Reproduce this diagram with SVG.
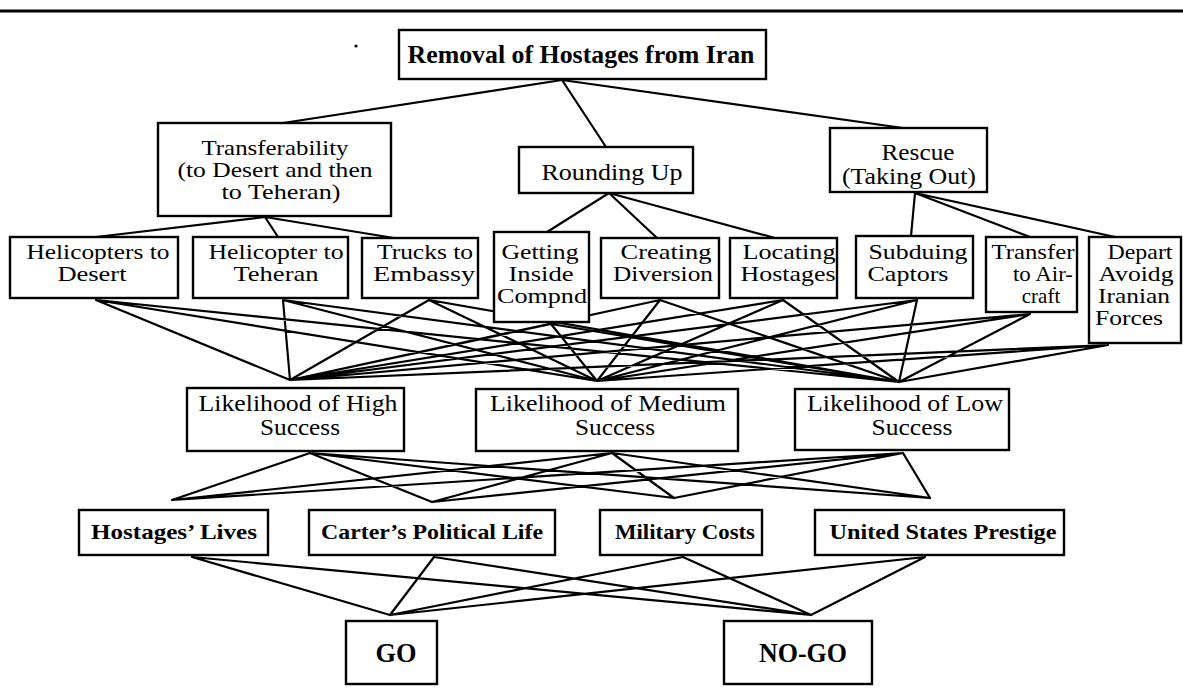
<svg xmlns="http://www.w3.org/2000/svg" width="1183" height="692" viewBox="0 0 1183 692">
<style>
.box{fill:#fff;stroke:#000;stroke-width:2.4}
.conn{fill:none;stroke:#000;stroke-width:2.2;stroke-linecap:round}
.t{font-family:"Liberation Serif",serif;font-size:21px;fill:#000;text-anchor:middle}
.t2{font-family:"Liberation Serif",serif;font-size:23px;fill:#000;text-anchor:middle}
.b{font-family:"Liberation Serif",serif;font-weight:bold;font-size:21px;fill:#000;text-anchor:middle}
</style>
<rect width="1183" height="692" fill="#fff"/>
<line x1="0" y1="11" x2="1183" y2="11" stroke="#000" stroke-width="3"/>
<circle cx="356" cy="46" r="1.6" fill="#000"/>

<g id="connectors">
<path class="conn" d="M562 80 L283 123 M562 80 L606 147 M562 80 L903 128"/>
<path class="conn" d="M265 217 L96 237 M265 217 L278 237 M265 217 L394 238"/>
<path class="conn" d="M609 193 L547 232 M609 193 L657 238 M609 193 L775 238"/>
<path class="conn" d="M915 193 L911 236 M915 193 L1030 237 M915 193 L1115 237"/>
<path class="conn" d="
M96 300 L290 380 M96 300 L597 381 M96 300 L899 382
M283 300 L290 380 M283 300 L597 381 M283 300 L899 382
M429 300 L290 380 M429 300 L597 381 M429 300 L899 382
M551 324 L290 380 M551 324 L597 381 M551 324 L899 382
M660 300 L290 380 M660 300 L597 381 M660 300 L899 382
M783 300 L290 380 M783 300 L597 381 M783 300 L899 382
M917 300 L290 380 M917 300 L597 381 M917 300 L899 382
M1030 314 L290 380 M1030 314 L597 381 M1030 314 L899 382
M1108 345 L290 380 M1108 345 L597 381 M1108 345 L899 382"/>
<path class="conn" d="
M310 453 L172 500 M310 453 L432 502 M310 453 L674 498 M310 453 L930 498
M612 453 L172 500 M612 453 L432 502 M612 453 L674 498 M612 453 L930 498
M903 453 L172 500 M903 453 L432 502 M903 453 L674 498 M903 453 L930 498"/>
<path class="conn" d="
M192 557 L390 615 M192 557 L811 615
M434 557 L390 615 M434 557 L811 615
M683 557 L390 615 M683 557 L811 615
M925 557 L390 615 M925 557 L811 615"/>
</g>

<g id="n-title">
<rect class="box" x="399" y="30" width="367" height="49"/>
<text class="b" style="font-size:25px" x="581" y="63" textLength="347" lengthAdjust="spacingAndGlyphs">Removal of Hostages from Iran</text>
</g>

<g id="n-transferability">
<rect class="box" x="158" y="123" width="233" height="93"/>
<text class="t" x="275" y="155" textLength="147" lengthAdjust="spacingAndGlyphs">Transferability</text>
<text class="t" x="275" y="177" textLength="195" lengthAdjust="spacingAndGlyphs">(to Desert and then</text>
<text class="t" x="281" y="199" textLength="119" lengthAdjust="spacingAndGlyphs">to Teheran)</text>
</g>

<g id="n-rounding">
<rect class="box" x="519" y="147" width="174" height="46"/>
<text class="t2" style="font-size:24px" x="612" y="180" textLength="141" lengthAdjust="spacingAndGlyphs">Rounding Up</text>
</g>

<g id="n-rescue">
<rect class="box" x="830" y="128" width="157" height="64"/>
<text class="t2" x="918" y="160" textLength="73" lengthAdjust="spacingAndGlyphs">Rescue</text>
<text class="t2" x="909" y="184" textLength="134" lengthAdjust="spacingAndGlyphs">(Taking Out)</text>
</g>

<g id="n-heli-desert">
<rect class="box" x="10" y="237" width="168" height="61"/>
<text class="t" x="98" y="259" textLength="143" lengthAdjust="spacingAndGlyphs">Helicopters to</text>
<text class="t" x="92" y="281" textLength="69" lengthAdjust="spacingAndGlyphs">Desert</text>
</g>

<g id="n-heli-teheran">
<rect class="box" x="193" y="237" width="155" height="61"/>
<text class="t" x="276" y="259" textLength="135" lengthAdjust="spacingAndGlyphs">Helicopter to</text>
<text class="t" x="276" y="281" textLength="85" lengthAdjust="spacingAndGlyphs">Teheran</text>
</g>

<g id="n-trucks">
<rect class="box" x="362" y="238" width="116" height="60"/>
<text class="t" x="425" y="259" textLength="96" lengthAdjust="spacingAndGlyphs">Trucks to</text>
<text class="t" x="424" y="281" textLength="102" lengthAdjust="spacingAndGlyphs">Embassy</text>
</g>

<g id="n-getting">
<rect class="box" x="494" y="232" width="95" height="90"/>
<text class="t" x="540" y="259" textLength="77" lengthAdjust="spacingAndGlyphs">Getting</text>
<text class="t" x="541" y="281" textLength="65" lengthAdjust="spacingAndGlyphs">Inside</text>
<text class="t" x="542" y="303" textLength="90" lengthAdjust="spacingAndGlyphs">Compnd</text>
</g>

<g id="n-creating">
<rect class="box" x="601" y="238" width="118" height="60"/>
<text class="t" x="666" y="259" textLength="91" lengthAdjust="spacingAndGlyphs">Creating</text>
<text class="t" x="663" y="281" textLength="100" lengthAdjust="spacingAndGlyphs">Diversion</text>
</g>

<g id="n-locating">
<rect class="box" x="730" y="238" width="107" height="60"/>
<text class="t" x="789" y="259" textLength="93" lengthAdjust="spacingAndGlyphs">Locating</text>
<text class="t" x="788" y="281" textLength="95" lengthAdjust="spacingAndGlyphs">Hostages</text>
</g>

<g id="n-subduing">
<rect class="box" x="856" y="236" width="117" height="62"/>
<text class="t" x="918" y="259" textLength="99" lengthAdjust="spacingAndGlyphs">Subduing</text>
<text class="t" x="908" y="281" textLength="81" lengthAdjust="spacingAndGlyphs">Captors</text>
</g>

<g id="n-transfer">
<rect class="box" x="986" y="237" width="91" height="75"/>
<text class="t" x="1033" y="259" textLength="83" lengthAdjust="spacingAndGlyphs">Transfer</text>
<text class="t" x="1043" y="281" textLength="60" lengthAdjust="spacingAndGlyphs">to Air-</text>
<text class="t" x="1041" y="303">craft</text>
</g>

<g id="n-depart">
<rect class="box" x="1089" y="237" width="92" height="106"/>
<text class="t" x="1140" y="259" textLength="65" lengthAdjust="spacingAndGlyphs">Depart</text>
<text class="t" x="1136" y="281" textLength="75" lengthAdjust="spacingAndGlyphs">Avoidg</text>
<text class="t" x="1134" y="303" textLength="72" lengthAdjust="spacingAndGlyphs">Iranian</text>
<text class="t" x="1129" y="325" textLength="68" lengthAdjust="spacingAndGlyphs">Forces</text>
</g>

<g id="n-high">
<rect class="box" x="187" y="388" width="217" height="63"/>
<text class="t2" x="298" y="411" textLength="199" lengthAdjust="spacingAndGlyphs">Likelihood of High</text>
<text class="t2" x="300" y="435" textLength="80" lengthAdjust="spacingAndGlyphs">Success</text>
</g>

<g id="n-medium">
<rect class="box" x="476" y="389" width="262" height="62"/>
<text class="t2" x="608" y="411" textLength="236" lengthAdjust="spacingAndGlyphs">Likelihood of Medium</text>
<text class="t2" x="615" y="435" textLength="80" lengthAdjust="spacingAndGlyphs">Success</text>
</g>

<g id="n-low">
<rect class="box" x="795" y="389" width="214" height="61"/>
<text class="t2" x="905" y="411" textLength="196" lengthAdjust="spacingAndGlyphs">Likelihood of Low</text>
<text class="t2" x="912" y="435" textLength="81" lengthAdjust="spacingAndGlyphs">Success</text>
</g>

<g id="n-lives">
<rect class="box" x="79" y="510" width="189" height="45"/>
<text class="b" x="174" y="539" textLength="166" lengthAdjust="spacingAndGlyphs">Hostages’ Lives</text>
</g>

<g id="n-carter">
<rect class="box" x="309" y="510" width="246" height="45"/>
<text class="b" x="432" y="539" textLength="222" lengthAdjust="spacingAndGlyphs">Carter’s Political Life</text>
</g>

<g id="n-military">
<rect class="box" x="600" y="510" width="162" height="45"/>
<text class="b" x="685" y="539" textLength="140" lengthAdjust="spacingAndGlyphs">Military Costs</text>
</g>

<g id="n-prestige">
<rect class="box" x="815" y="510" width="249" height="45"/>
<text class="b" x="943" y="539" textLength="227" lengthAdjust="spacingAndGlyphs">United States Prestige</text>
</g>

<g id="n-go">
<rect class="box" x="346" y="621" width="91" height="63"/>
<text class="b" style="font-size:28px" x="396" y="662" textLength="41" lengthAdjust="spacingAndGlyphs">GO</text>
</g>

<g id="n-nogo">
<rect class="box" x="724" y="621" width="148" height="63"/>
<text class="b" style="font-size:28px" x="803" y="662" textLength="88" lengthAdjust="spacingAndGlyphs">NO-GO</text>
</g>
</svg>
